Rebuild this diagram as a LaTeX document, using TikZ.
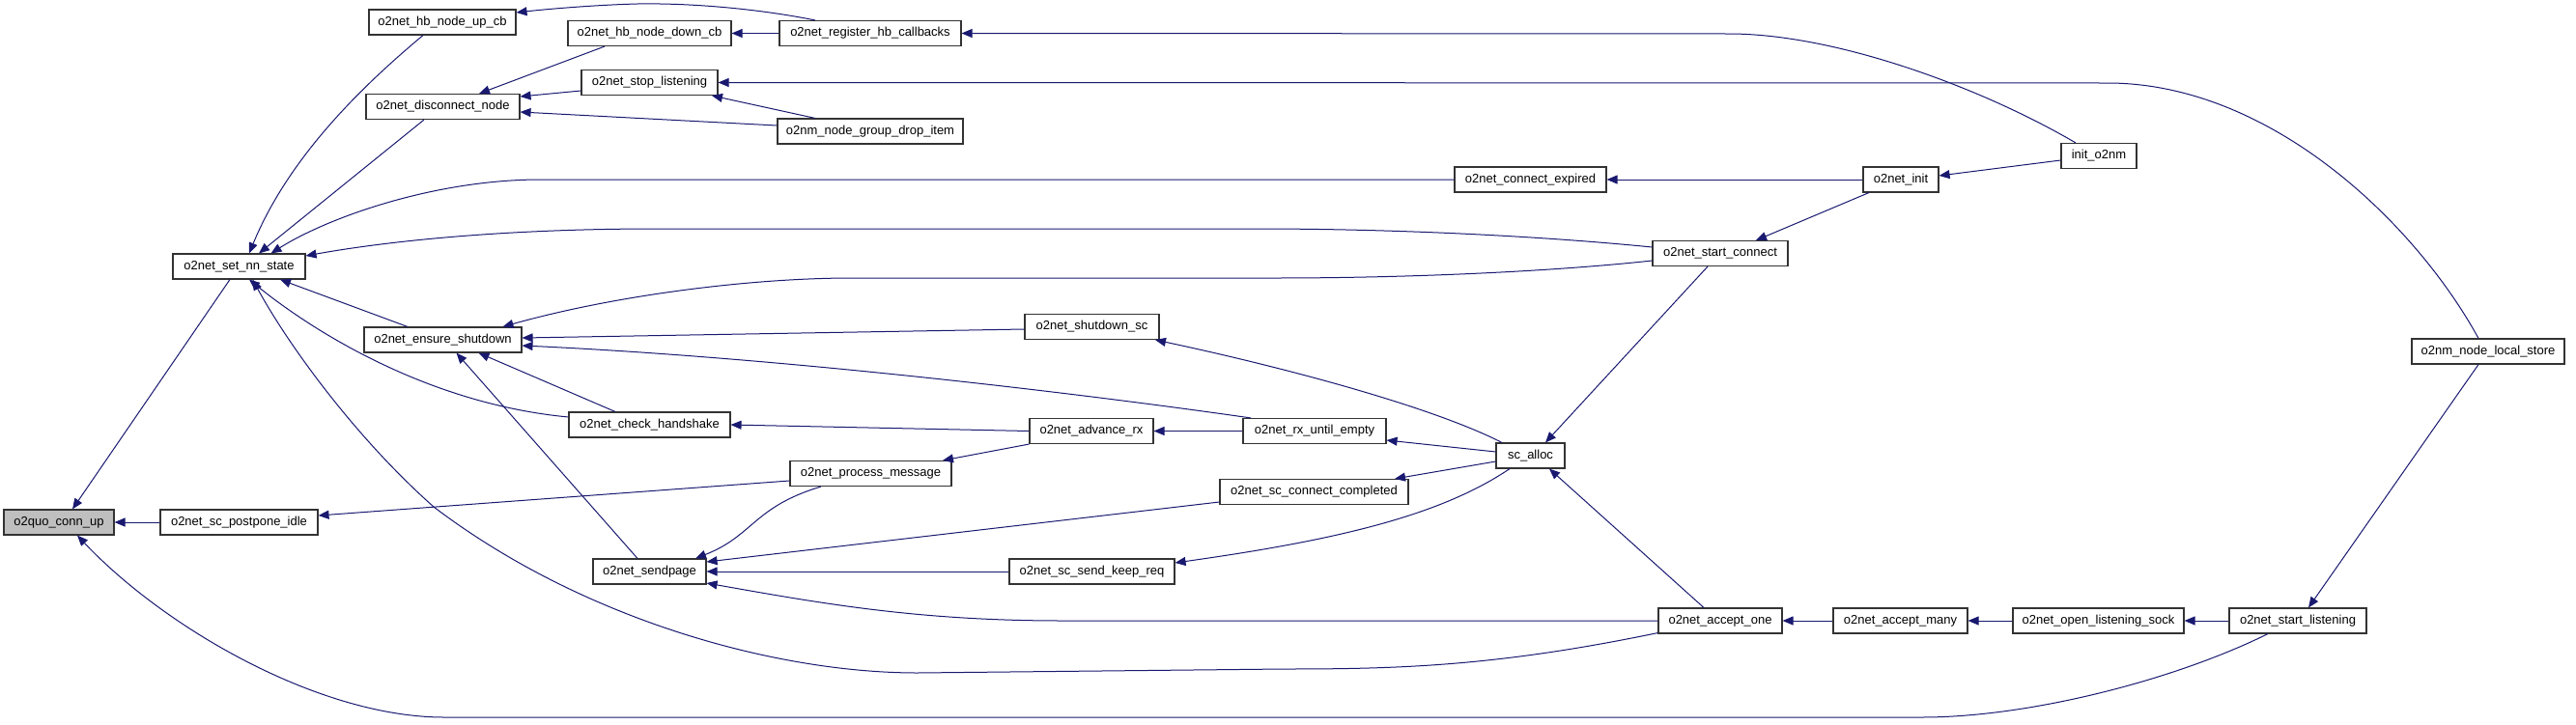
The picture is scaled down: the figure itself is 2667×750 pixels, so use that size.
\documentclass[tikz,border=0pt]{standalone}
\usepackage{fontspec}
\setmainfont{Liberation Sans}
\usetikzlibrary{arrows.meta}
\definecolor{edgeblue}{RGB}{25,25,112}
\definecolor{boxgray}{RGB}{191,191,191}
\begin{document}
\begin{tikzpicture}[x=1pt,y=-1pt,
  fn/.style={draw=black!80, line width=1.1pt, fill=white, minimum height=26pt, inner sep=0pt, font=\fontsize{13}{15}\selectfont},
  edge/.style={draw=edgeblue, line width=1pt, -{Triangle[length=11pt,width=9pt]}}]
\useasboundingbox (0,0) rectangle (2667,750);
% nodes
\node[fn, fill=boxgray, minimum width=114pt] (connup) at (61,541) {o2quo\_conn\_up};
\node[fn, minimum width=163pt] (postpone) at (247.5,541) {o2net\_sc\_postpone\_idle};
\node[fn, minimum width=137pt] (setnn) at (247.5,276) {o2net\_set\_nn\_state};
\node[fn, minimum width=152pt] (hbup) at (458,23) {o2net\_hb\_node\_up\_cb};
\node[fn, minimum width=159pt] (disconnect) at (458.5,110.5) {o2net\_disconnect\_node};
\node[fn, minimum width=163pt] (ensure) at (458.5,352) {o2net\_ensure\_shutdown};
\node[fn, minimum width=167pt] (checkhs) at (672.5,440) {o2net\_check\_handshake};
\node[fn, minimum width=117pt] (sendpage) at (672.5,592) {o2net\_sendpage};
\node[fn, minimum width=169pt] (hbdown) at (672.5,34.5) {o2net\_hb\_node\_down\_cb};
\node[fn, minimum width=141pt] (stoplisten) at (672.5,85.5) {o2net\_stop\_listening};
\node[fn, minimum width=188pt] (register) at (901,34.5) {o2net\_register\_hb\_callbacks};
\node[fn, minimum width=192pt] (dropitem) at (901,136) {o2nm\_node\_group\_drop\_item};
\node[fn, minimum width=167pt] (processmsg) at (901.5,490.5) {o2net\_process\_message};
\node[fn, minimum width=139pt] (shutdownsc) at (1130.5,338.5) {o2net\_shutdown\_sc};
\node[fn, minimum width=128pt] (advancerx) at (1130,446.5) {o2net\_advance\_rx};
\node[fn, minimum width=171pt] (sckeep) at (1130.5,592) {o2net\_sc\_send\_keep\_req};
\node[fn, minimum width=157pt] (connectexp) at (1584.5,186) {o2net\_connect\_expired};
\node[fn, minimum width=148pt] (rxuntil) at (1361,446.5) {o2net\_rx\_until\_empty};
\node[fn, minimum width=195pt] (sccc) at (1360.5,509.5) {o2net\_sc\_connect\_completed};
\node[fn, minimum width=71pt] (scalloc) at (1584.5,472) {sc\_alloc};
\node[fn, minimum width=140pt] (startconnect) at (1781,262.5) {o2net\_start\_connect};
\node[fn, minimum width=128pt] (acceptone) at (1781,643) {o2net\_accept\_one};
\node[fn, minimum width=78pt] (o2netinit) at (1968,186) {o2net\_init};
\node[fn, minimum width=139pt] (acceptmany) at (1967.5,643) {o2net\_accept\_many};
\node[fn, minimum width=78pt] (inito2nm) at (2173,161.5) {init\_o2nm};
\node[fn, minimum width=177pt] (openlisten) at (2172.5,643) {o2net\_open\_listening\_sock};
\node[fn, minimum width=158pt] (nodelocal) at (2576,364) {o2nm\_node\_local\_store};
\node[fn, minimum width=142pt] (startlisten) at (2379,643) {o2net\_start\_listening};
% edges (caller -> callee, arrow at callee)
\draw[edge] ([xshift=-9.5pt]setnn.south) -- ([xshift=14pt]connup.north);
\draw[edge] (postpone.west) -- (connup.east);
\draw[edge] ([xshift=-31pt]startlisten.south) .. controls (2250,705) and (2100,743) .. (1990,743) -- (460,743) .. controls (330,743) and (170,650) .. ([xshift=19pt]connup.south);
\draw[edge] ([xshift=-20pt]hbup.south) .. controls (380,85) and (300,160) .. ([xshift=10.5pt]setnn.north);
\draw[edge] ([xshift=-19.5pt]disconnect.south) -- ([xshift=20.5pt]setnn.north);
\draw[edge] (connectexp.west) -- (560,186) .. controls (450,186) and (340,225) .. ([xshift=33pt]setnn.north);
\draw[edge] ([yshift=6.5pt]startconnect.west) .. controls (1600,245) and (1450,237) .. (1300,237) -- (680,237) .. controls (520,237) and (400,250) .. ([yshift=11pt]setnn.east);
\draw[edge] ([xshift=-36.5pt]ensure.north) -- ([xshift=42.5pt]setnn.south);
\draw[edge] ([yshift=8pt]checkhs.west) .. controls (440,418) and (320,340) .. ([xshift=10.5pt]setnn.south);
\draw[edge] ([yshift=1pt]acceptone.south west) .. controls (1550,690) and (1450,693) .. (1330,693) -- (950,697) .. controls (800,697) and (600,640) .. (449,525) .. controls (370,455) and (300,360) .. ([xshift=14pt]setnn.south);
\draw[edge] ([xshift=-57pt]register.north) .. controls (790,10) and (720,3) .. (660,4) .. controls (620,5) and (570,9) .. ([yshift=10pt]hbup.east);
\draw[edge] (register.west) -- (hbdown.east);
\draw[edge] ([xshift=-46.5pt]hbdown.south) -- ([xshift=37.5pt]disconnect.north);
\draw[edge] ([yshift=-8.5pt]stoplisten.west) -- ([yshift=10.5pt]disconnect.east);
\draw[edge] ([yshift=6pt]dropitem.west) -- ([yshift=-5.5pt]disconnect.east);
\draw[edge] ([xshift=-57pt]dropitem.north) -- ([xshift=64.5pt]stoplisten.south);
\draw[edge] ([xshift=-10pt]nodelocal.north) .. controls (2500,230) and (2350,86) .. (2182,86) -- (stoplisten.east);
\draw[edge] ([xshift=-24pt]inito2nm.north) .. controls (2050,90) and (1900,35) .. (1790,35) -- (register.east);
\draw[edge] (o2netinit.west) -- (connectexp.east);
\draw[edge] ([yshift=-4.5pt]inito2nm.west) -- ([yshift=4pt]o2netinit.east);
\draw[edge] ([xshift=-33pt]o2netinit.south) -- ([xshift=37pt]startconnect.north);
\draw[edge] ([yshift=-7.5pt]startconnect.west) .. controls (1600,282) and (1450,288) .. (1320,288) -- (882,288) .. controls (780,288) and (640,305) .. ([xshift=62pt]ensure.north);
\draw[edge] ([yshift=-2.5pt]shutdownsc.west) -- ([yshift=2pt]ensure.east);
\draw[edge] ([xshift=-66pt]rxuntil.north) .. controls (1100,405) and (800,370) .. ([yshift=-6pt]ensure.east);
\draw[edge] ([xshift=-35.5pt]checkhs.north) -- ([xshift=37pt]ensure.south);
\draw[edge] ([xshift=-12.5pt]sendpage.north) -- ([xshift=14pt]ensure.south);
\draw[edge] (advancerx.west) -- (checkhs.east);
\draw[edge] ([yshift=-7.5pt]processmsg.west) -- ([yshift=7pt]postpone.east);
\draw[edge] (advancerx.south west) -- ([xshift=74.5pt]processmsg.north);
\draw[edge] (rxuntil.west) -- (advancerx.east);
\draw[edge] ([yshift=4pt]scalloc.west) -- ([yshift=-9.5pt]rxuntil.east);
\draw[edge] ([yshift=-6pt]scalloc.west) -- ([xshift=83.5pt]sccc.north);
\draw[edge] ([xshift=-29.5pt]scalloc.north) .. controls (1490,425) and (1350,385) .. ([xshift=65.5pt]shutdownsc.south);
\draw[edge] ([xshift=-13pt]startconnect.south) -- ([xshift=15.5pt]scalloc.north);
\draw[edge] ([xshift=-17pt]acceptone.north) -- ([xshift=19.5pt]scalloc.south);
\draw[edge] ([xshift=-21.5pt]scalloc.south) .. controls (1490,535) and (1380,560) .. ([yshift=9pt]sckeep.east);
\draw[edge] ([xshift=-51.5pt]processmsg.south) .. controls (780,525) and (780,555) .. ([xshift=47.5pt]sendpage.north);
\draw[edge] ([yshift=-10.5pt]sccc.west) -- ([yshift=10pt]sendpage.east);
\draw[edge] (sckeep.west) -- (sendpage.east);
\draw[edge] (acceptone.west) -- (1100,643) .. controls (950,643) and (850,625) .. ([yshift=-12pt]sendpage.east);
\draw[edge] (acceptmany.west) -- (acceptone.east);
\draw[edge] (openlisten.west) -- (acceptmany.east);
\draw[edge] (startlisten.west) -- (openlisten.east);
\draw[edge] ([xshift=-10pt]nodelocal.south) -- ([xshift=11pt]startlisten.north);
\end{tikzpicture}
\end{document}
